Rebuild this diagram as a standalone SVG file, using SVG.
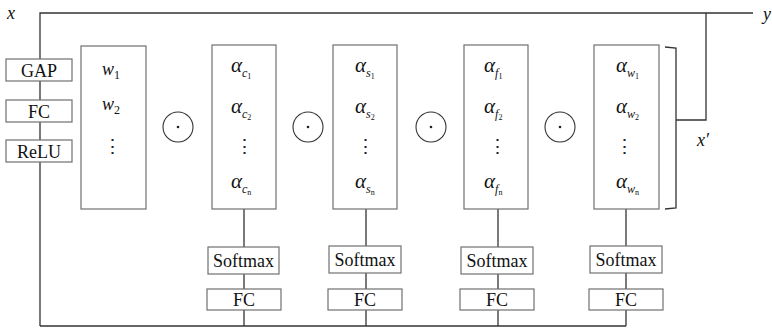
<svg xmlns="http://www.w3.org/2000/svg" width="772" height="328" viewBox="0 0 772 328">
<style>
.box{fill:#fff;stroke:#707070;stroke-width:1.2}
.ln{fill:none;stroke:#333;stroke-width:1.3}
.t{font-family:"Liberation Serif","Times New Roman",serif;font-size:18px;fill:#111}
.c{text-anchor:middle}
.i{font-style:italic}
.s{font-size:12px;font-style:italic}
.ss{font-size:8px;font-style:normal}
.dots{font-family:"DejaVu Serif","Liberation Serif",serif;font-size:19px;fill:#222;text-anchor:middle}
.op{fill:#fff;stroke:#333;stroke-width:1.1}
</style>
<rect width="772" height="328" fill="#fff"/>
<g id="connectors">
<polyline class="ln" points="40,326 40,13 753,13"/>
<line class="ln" x1="40" y1="326" x2="626" y2="326"/>
<polyline class="ln" points="244,209 244,326"/>
<polyline class="ln" points="366,209 366,326"/>
<polyline class="ln" points="498,209 498,326"/>
<polyline class="ln" points="626,209 626,326"/>
<polyline class="ln" points="676,120 706,120 706,13"/>
<polyline class="ln" points="665,47 676,48 676,208 665,209"/>
</g>
<g id="labels">
<text class="t i" x="7" y="19">x</text>
<text class="t i" x="763" y="20">y</text>
<text class="t i" x="697" y="146">x′</text>
</g>
<g id="gap"><rect class="box" x="6" y="59" width="66" height="22"/><text class="t c" x="39" y="77">GAP</text></g>
<g id="fc0"><rect class="box" x="6" y="100" width="66" height="22"/><text class="t c" x="39" y="118">FC</text></g>
<g id="relu"><rect class="box" x="6" y="140" width="66" height="22"/><text class="t c" x="39" y="158">ReLU</text></g>
<g id="w">
<rect class="box" x="81" y="46" width="65" height="163"/>
<text class="t i" x="102" y="75">w<tspan class="ss" style="font-size:12px" dy="4">1</tspan></text>
<text class="t i" x="102" y="110">w<tspan class="ss" style="font-size:12px" dy="4">2</tspan></text>
<text class="dots" x="112" y="153">⋮</text>
</g>
<g id="op1"><circle class="op" cx="178" cy="127" r="15"/><circle cx="178" cy="127" r="1.3" fill="#222"/></g>
<g id="alpha-c">
<rect class="box" x="212" y="45" width="64" height="164"/>
<text class="t i" x="231" y="72" style="font-size:21px">α<tspan class="s" dy="5">c</tspan><tspan class="ss" dy="2">1</tspan></text>
<text class="t i" x="231" y="113" style="font-size:21px">α<tspan class="s" dy="5">c</tspan><tspan class="ss" dy="2">2</tspan></text>
<text class="dots" x="244" y="153">⋮</text>
<text class="t i" x="231" y="188" style="font-size:21px">α<tspan class="s" dy="5">c</tspan><tspan class="ss" dy="2">n</tspan></text>
</g>
<g id="op2"><circle class="op" cx="308" cy="127" r="15"/><circle cx="308" cy="127" r="1.3" fill="#222"/></g>
<g id="alpha-s">
<rect class="box" x="333" y="45" width="64" height="164"/>
<text class="t i" x="355" y="72" style="font-size:21px">α<tspan class="s" dy="5">s</tspan><tspan class="ss" dy="2">1</tspan></text>
<text class="t i" x="355" y="113" style="font-size:21px">α<tspan class="s" dy="5">s</tspan><tspan class="ss" dy="2">2</tspan></text>
<text class="dots" x="365" y="153">⋮</text>
<text class="t i" x="355" y="188" style="font-size:21px">α<tspan class="s" dy="5">s</tspan><tspan class="ss" dy="2">n</tspan></text>
</g>
<g id="op3"><circle class="op" cx="431" cy="127" r="15"/><circle cx="431" cy="127" r="1.3" fill="#222"/></g>
<g id="alpha-f">
<rect class="box" x="464" y="45" width="64" height="164"/>
<text class="t i" x="484" y="72" style="font-size:21px">α<tspan class="s" dy="5">f</tspan><tspan class="ss" dy="2">1</tspan></text>
<text class="t i" x="484" y="113" style="font-size:21px">α<tspan class="s" dy="5">f</tspan><tspan class="ss" dy="2">2</tspan></text>
<text class="dots" x="497" y="153">⋮</text>
<text class="t i" x="484" y="188" style="font-size:21px">α<tspan class="s" dy="5">f</tspan><tspan class="ss" dy="2">n</tspan></text>
</g>
<g id="op4"><circle class="op" cx="560" cy="127" r="15"/><circle cx="560" cy="127" r="1.3" fill="#222"/></g>
<g id="alpha-w">
<rect class="box" x="594" y="45" width="65" height="164"/>
<text class="t i" x="616" y="72" style="font-size:21px">α<tspan class="s" dy="5">w</tspan><tspan class="ss" dy="2">1</tspan></text>
<text class="t i" x="616" y="113" style="font-size:21px">α<tspan class="s" dy="5">w</tspan><tspan class="ss" dy="2">2</tspan></text>
<text class="dots" x="624" y="153">⋮</text>
<text class="t i" x="616" y="188" style="font-size:21px">α<tspan class="s" dy="5">w</tspan><tspan class="ss" dy="2">n</tspan></text>
</g>
<g id="softmax1"><rect class="box" x="208" y="247" width="71" height="27"/><text class="t c" x="243.5" y="267">Softmax</text></g>
<g id="fc1"><rect class="box" x="207" y="289" width="74" height="21"/><text class="t c" x="244" y="306">FC</text></g>
<g id="softmax2"><rect class="box" x="329" y="246" width="72" height="27"/><text class="t c" x="365" y="266">Softmax</text></g>
<g id="fc2"><rect class="box" x="328" y="289" width="74" height="21"/><text class="t c" x="365" y="306">FC</text></g>
<g id="softmax3"><rect class="box" x="461" y="247" width="72" height="27"/><text class="t c" x="497" y="267">Softmax</text></g>
<g id="fc3"><rect class="box" x="460" y="289" width="74" height="21"/><text class="t c" x="497" y="306">FC</text></g>
<g id="softmax4"><rect class="box" x="590" y="246" width="72" height="27"/><text class="t c" x="626" y="266">Softmax</text></g>
<g id="fc4"><rect class="box" x="589" y="289" width="74" height="21"/><text class="t c" x="626" y="306">FC</text></g>
</svg>
